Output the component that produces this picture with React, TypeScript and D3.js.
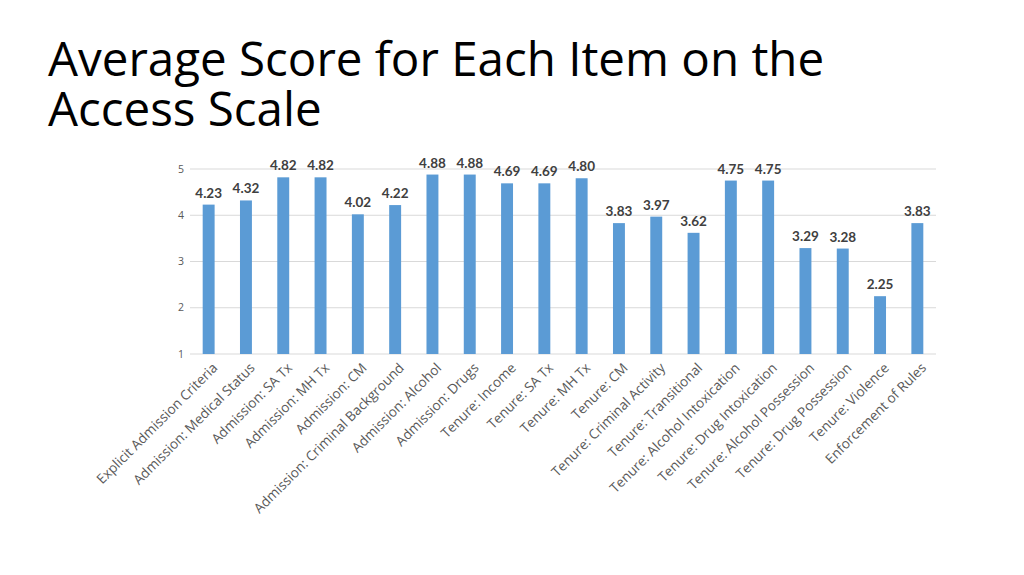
import React from "react";
import * as d3 from "d3";

const categories = [
  "Explicit Admission Criteria",
  "Admission: Medical Status",
  "Admission: SA Tx",
  "Admission: MH Tx",
  "Admission: CM",
  "Admission: Criminal Background",
  "Admission: Alcohol",
  "Admission: Drugs",
  "Tenure: Income",
  "Tenure: SA Tx",
  "Tenure: MH Tx",
  "Tenure: CM",
  "Tenure: Criminal Activity",
  "Tenure: Transitional",
  "Tenure: Alcohol Intoxication",
  "Tenure: Drug Intoxication",
  "Tenure: Alcohol Possession",
  "Tenure: Drug Possession",
  "Tenure: Violence",
  "Enforcement of Rules",
];
const values = [4.23, 4.32, 4.82, 4.82, 4.02, 4.22, 4.88, 4.88, 4.69, 4.69, 4.8, 3.83, 3.97, 3.62, 4.75, 4.75, 3.29, 3.28, 2.25, 3.83];
const yTicks = [1, 2, 3, 4, 5];
const titleLines = ["Average Score for Each Item on the", "Access Scale"];

export default function App() {
  const W = 1024;
  const H = 575;
  const left = 190;
  const right = 936;
  const top = 169;
  const bottom = 354;
  const x = d3.scaleBand<string>().domain(categories).range([left, right]).paddingInner(0.68).paddingOuter(0.34);
  const y = d3.scaleLinear().domain([1, 5]).range([bottom, top]);
  const font = "'Open Sans', sans-serif";
  return (
    <svg width={W} height={H} style={{ position: "absolute", left: 0, top: 0, background: "#fff" }}>
      {titleLines.map((t, i) => (
        <text key={i} x={48} y={76 + i * 50} fontFamily="'Open Sans', sans-serif" fontSize={47.5} fill="#000">
          {t}
        </text>
      ))}
      {yTicks.map((t) => (
        <g key={t}>
          <line x1={left} x2={right} y1={y(t)} y2={y(t)} stroke="#d9d9d9" strokeWidth={1} />
          <text x={184} y={y(t)} dy="0.35em" textAnchor="end" fontFamily={font} fontSize={10.5} fill="#595959">
            {t}
          </text>
        </g>
      ))}
      {categories.map((c, i) => {
        const cx = (x(c) as number) + x.bandwidth() / 2;
        return (
          <g key={c}>
            <rect x={x(c)} y={y(values[i])} width={x.bandwidth()} height={bottom - y(values[i])} fill="#5b9bd5" />
            <text x={cx} y={y(values[i]) - 7} textAnchor="middle" fontFamily="Lato, sans-serif" fontWeight="bold" fontSize={13.5} fill="#404040">
              {values[i].toFixed(2)}
            </text>
            <text
              transform={`translate(${cx + 3},${362}) rotate(-45)`}
              textAnchor="end"
              dy="0.7em"
              fontFamily={font}
              fontSize={13.6}
              fill="#595959"
            >
              {c}
            </text>
          </g>
        );
      })}
    </svg>
  );
}
